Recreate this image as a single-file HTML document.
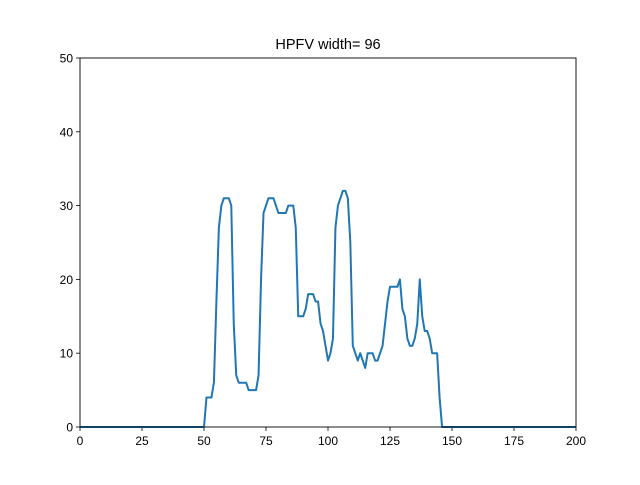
<!DOCTYPE html>
<html><head><meta charset="utf-8"><style>
body{margin:0;background:#fff}
svg text{font-family:"Liberation Sans","DejaVu Sans",sans-serif;fill:#000}
</style></head><body>
<svg id="chart" width="640" height="480">
<rect width="640" height="480" fill="#fff"/>
<text x="328" y="49" font-size="14.5" text-anchor="middle">HPFV width= 96</text>
<g id="plot"></g>
<rect x="80" y="58" width="496" height="369" fill="none" stroke="#000" stroke-width="0.9"/>
</svg>
<script>
const xTicks=[0,25,50,75,100,125,150,175,200];
const yTicks=[0,10,20,30,40,50];
const seriesX=[];for(let i=0;i<=200;i++)seriesX.push(i);
const seriesSegment=[4,4,4,6,17,27,30,31,31,31,30,14,7,6,6,6,6,5,5,5,5,7,20,29,30,31,31,31,30,29,29,29,29,30,30,30,27,15,15,15,16,18,18,18,17,17,14,13,11,9,10,12,27,30,31,32,32,31,25,11,10,9,10,9,8,10,10,10,9,9,10,11,14,17,19,19,19,19,20,16,15,12,11,11,12,14,20,15,13,13,12,10,10,10,4];
const seriesY=[];
for(let i=0;i<=200;i++){const k=i-51;seriesY.push(k>=0&&k<seriesSegment.length?seriesSegment[k]:0);}
const L=80,R=576,T=58,B=427;
const xs=v=>L+(v-0)/(200-0)*(R-L);
const ys=v=>B-(v-0)/(50-0)*(B-T);
const NS="http://www.w3.org/2000/svg";
const g=document.getElementById('plot');
function mk(t,a){const e=document.createElementNS(NS,t);for(const k in a)e.setAttribute(k,a[k]);g.appendChild(e);return e;}
xTicks.forEach(v=>{
 const l=mk('line',{x1:xs(v),x2:xs(v),y1:B,y2:B+4,stroke:'#000','stroke-width':0.8});
 
 
 const t=mk('text',{x:xs(v),y:B+18,'font-size':12,'text-anchor':'middle'});t.textContent=v;
 
 
});
yTicks.forEach(v=>{
 const l=mk('line',{x1:L-4,x2:L,y1:ys(v),y2:ys(v),stroke:'#000','stroke-width':0.8});
 
 
 const t=mk('text',{x:L-7,y:ys(v)+4.5,'font-size':12,'text-anchor':'end'});t.textContent=v;
 
 
});
const pts=seriesX.map((x,i)=>xs(x).toFixed(2)+','+ys(seriesY[i]).toFixed(2)).join(' ');
const p=mk('polyline',{points:pts,fill:'none',stroke:'#1f77b4','stroke-width':2,'stroke-linejoin':'round'});


</script>
</body></html>
